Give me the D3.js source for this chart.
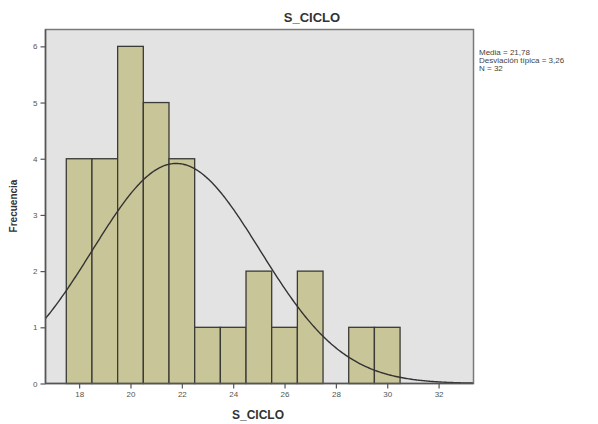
<!DOCTYPE html>
<html>
<head>
<meta charset="utf-8">
<script src="https://cdn.jsdelivr.net/npm/d3@7"></script>
<style>
  body { margin: 0; background: #fff; }
  text { font-family: "Liberation Sans", Arial, sans-serif; }
</style>
</head>
<body>
<svg id="chart" width="598" height="424"></svg>
<script>
// histogram bins (lower edge) and counts
var binStart = [17.5, 18.5, 19.5, 20.5, 21.5, 22.5, 23.5, 24.5, 25.5, 26.5, 27.5, 28.5, 29.5];
var counts   = [4, 4, 6, 5, 4, 1, 1, 2, 1, 2, 0, 1, 1];
var binWidth = 1;
var xTicks = [18, 20, 22, 24, 26, 28, 30, 32];
var yTicks = [0, 1, 2, 3, 4, 5, 6];
var stats = ["Media = 21,78", "Desviación típica = 3,26", "N = 32"];
var mean = 21.78, sd = 3.26, n = 32;

var svg = d3.select("#chart");

var L = 45.5, R = 473.5, T = 29.5, B = 383.5;

var x = d3.scaleLinear().domain([16.69, 33.36]).range([L, R]);
var y = d3.scaleLinear().domain([0, 6.3]).range([B, T]);

// plot background
svg.append("rect")
  .attr("x", L).attr("y", T)
  .attr("width", R - L).attr("height", B - T)
  .attr("fill", "#e3e3e3")
  .attr("stroke", "#7a7a7a")
  .attr("stroke-width", 1.5);

// bars
var bins = binStart.map(function(s, i) { return {x0: s, x1: s + binWidth, n: counts[i]}; })
  .filter(function(d) { return d.n > 0; });

svg.append("g").selectAll("rect")
  .data(bins)
  .enter().append("rect")
  .attr("x", function(d) { return x(d.x0); })
  .attr("y", function(d) { return y(d.n); })
  .attr("width", function(d) { return x(d.x1) - x(d.x0); })
  .attr("height", function(d) { return y(0) - y(d.n); })
  .attr("fill", "#c8c598")
  .attr("stroke", "#3a3a36")
  .attr("stroke-width", 1.3);

// normal curve
var curveX = d3.range(16.69, 33.36, 0.05);
var norm = function(v) {
  return n * binWidth / (sd * Math.sqrt(2 * Math.PI)) * Math.exp(-0.5 * Math.pow((v - mean) / sd, 2));
};
svg.append("path")
  .datum(curveX)
  .attr("fill", "none")
  .attr("stroke", "#333")
  .attr("stroke-width", 1.4)
  .attr("d", d3.line()
    .x(function(d) { return x(d); })
    .y(function(d) { return y(norm(d)); }));

// axes
var xAxis = d3.axisBottom(x).tickValues(xTicks).tickFormat(d3.format("d")).tickSize(5).tickSizeOuter(0);
var yAxis = d3.axisLeft(y).tickValues(yTicks).tickFormat(d3.format("d")).tickSize(5).tickSizeOuter(0);

var gx = svg.append("g").attr("transform", "translate(0," + B + ")").call(xAxis);
var gy = svg.append("g").attr("transform", "translate(" + L + ",0)").call(yAxis);

[gx, gy].forEach(function(g) {
  g.select(".domain").attr("stroke", "#555").attr("stroke-width", 1.5);
  g.selectAll(".tick line").attr("stroke", "#555").attr("stroke-width", 1.2);
  g.selectAll(".tick text")
    .attr("fill", "#555")
    .style("font-size", "8px")
    .style("font-family", "Liberation Sans, Arial, sans-serif");
});
gx.select(".domain").attr("d", "M" + L + ",0H" + R);
gy.select(".domain").attr("d", "M0," + B + "V" + T);

// titles
svg.append("text")
  .attr("x", 312).attr("y", 22)
  .attr("text-anchor", "middle")
  .attr("font-weight", "bold")
  .attr("font-size", "13px")
  .attr("fill", "#333")
  .text("S_CICLO");

svg.append("text")
  .attr("x", 258).attr("y", 419)
  .attr("text-anchor", "middle")
  .attr("font-weight", "bold")
  .attr("font-size", "12px")
  .attr("fill", "#333")
  .text("S_CICLO");

svg.append("text")
  .attr("transform", "translate(17,206) rotate(-90)")
  .attr("text-anchor", "middle")
  .attr("font-weight", "bold")
  .attr("font-size", "10px")
  .attr("fill", "#333")
  .text("Frecuencia");

// stats legend
svg.append("g").selectAll("text")
  .data(stats)
  .enter().append("text")
  .attr("x", 479)
  .attr("y", function(d, i) { return 55 + i * 8; })
  .attr("font-size", "8px")
  .attr("fill", "#444")
  .text(function(d) { return d; });
</script>
</body>
</html>
